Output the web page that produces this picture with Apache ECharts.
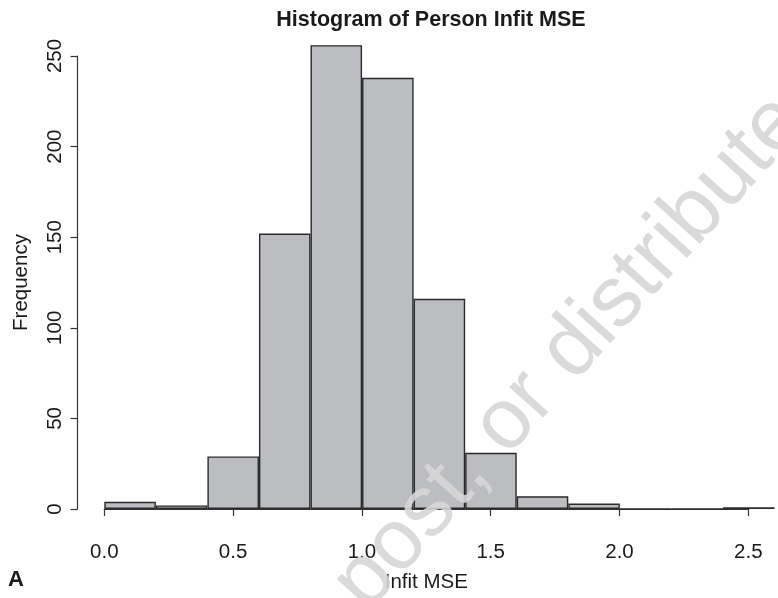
<!DOCTYPE html>
<html>
<head>
<meta charset="utf-8">
<script src="https://cdn.jsdelivr.net/npm/echarts@6/dist/echarts.min.js"></script>
<style>html,body{margin:0;padding:0;background:#fff}#c{width:778px;height:598px}</style>
</head>
<body>
<div id="c"></div>
<script>
// Histogram bins (Infit MSE), width 0.2
const binStarts = [0.0, 0.2, 0.4, 0.6, 0.8, 1.0, 1.2, 1.4, 1.6, 1.8, 2.0, 2.2, 2.4];
const frequencies = [4, 2, 29, 152, 256, 238, 116, 31, 7, 3, 0, 0, 1];
const xTicks = [0.0, 0.5, 1.0, 1.5, 2.0, 2.5];
const yTicks = [0, 50, 100, 150, 200, 250];

const FONT = 'Liberation Sans, Arial, Helvetica, sans-serif';
const chart = echarts.init(document.getElementById('c'), null, {renderer: 'canvas'});

chart.setOption({
  animation: false,
  backgroundColor: '#ffffff',
  title: {
    text: 'Histogram of Person Infit MSE',
    left: 426, top: 4, textAlign: 'center',
    textStyle: {fontFamily: FONT, fontSize: 21.5, fontWeight: 'bold', color: '#1a1a1a'}
  },
  grid: [
    {left: 104.3, right: 3.5, top: 56, bottom: 89, containLabel: false},
    {left: 104.3, width: 644, top: 508, height: 1, containLabel: false}
  ],
  xAxis: [
    {
      type: 'category', gridIndex: 0,
      data: binStarts.map(v => v.toFixed(1)),
      boundaryGap: true,
      axisLine: {show: false}, axisTick: {show: false}, axisLabel: {show: false},
      splitLine: {show: false}
    },
    {
      type: 'value', gridIndex: 1, position: 'bottom', offset: 19,
      min: xTicks[0], max: xTicks[xTicks.length - 1], interval: 0.5,
      name: 'Infit MSE', nameLocation: 'middle', nameGap: 44,
      nameTextStyle: {fontFamily: FONT, fontSize: 20.5, color: '#1a1a1a'},
      axisLine: {show: true, lineStyle: {color: '#333', width: 1.2}},
      axisTick: {show: true, inside: false, length: 7, lineStyle: {color: '#333', width: 1.2}},
      axisLabel: {show: true, margin: 14, fontFamily: FONT, fontSize: 20.5, color: '#1a1a1a',
        formatter: v => v.toFixed(1)},
      splitLine: {show: false}
    }
  ],
  yAxis: [
    {
      type: 'value', gridIndex: 0, position: 'left', offset: 26.8,
      min: yTicks[0], max: yTicks[yTicks.length - 1], interval: 50,
      name: 'Frequency', nameLocation: 'middle', nameGap: 46, nameRotate: 90,
      nameTextStyle: {fontFamily: FONT, fontSize: 20.5, color: '#1a1a1a'},
      axisLine: {show: true, lineStyle: {color: '#333', width: 1.2}},
      axisTick: {show: true, inside: false, length: 7, lineStyle: {color: '#333', width: 1.2}},
      axisLabel: {show: true, rotate: 90, margin: 12, fontFamily: FONT, fontSize: 20.5, color: '#1a1a1a'},
      splitLine: {show: false}
    },
    {type: 'value', gridIndex: 1, show: false, min: 0, max: 1}
  ],
  series: [{
    type: 'bar', xAxisIndex: 0, yAxisIndex: 0,
    data: frequencies,
    barCategoryGap: '0%', barGap: '0%',
    clip: false,
    itemStyle: {color: '#bcbdc1', borderColor: '#2a2a2a', borderWidth: 1.4},
    emphasis: {disabled: true}
  }],
  graphic: [
    {
      type: 'text', x: 8, y: 591, z: 10,
      style: {text: 'A', fontFamily: FONT, fontSize: 22, fontWeight: 'bold', fill: '#1a1a1a',
        textAlign: 'left', textVerticalAlign: 'bottom'}
    },
    {
      type: 'text', x: 349, y: 598, rotation: 48 * Math.PI / 180, z: 20,
      style: {text: 'post, or distribute', fontFamily: FONT, fontWeight: 'normal',
        fontSize: 86, fill: '#d6d6d6', opacity: 0.9, textAlign: 'left', textVerticalAlign: 'middle'}
    }
  ]
});
</script>
</body>
</html>
